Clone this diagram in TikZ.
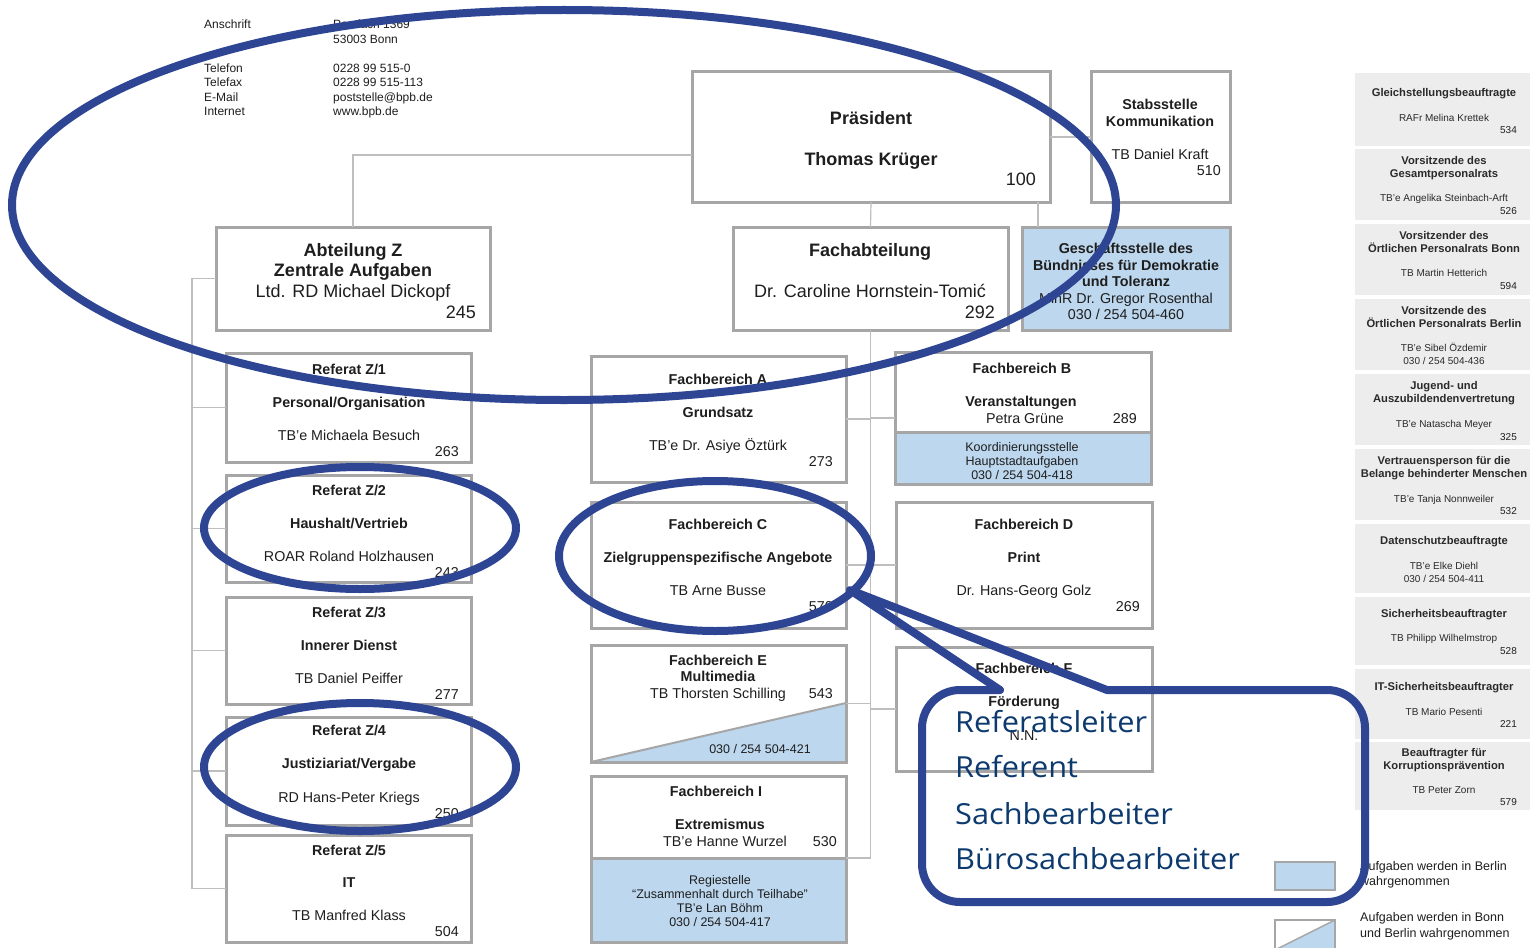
\documentclass[tikz,border=0pt]{standalone}
\usepackage{fontspec}
\setmainfont{Liberation Sans}
\newfontfamily\callfont[FakeStretch=1.06]{Open Sans}
\definecolor{boxgray}{HTML}{A6A6A6}
\definecolor{conngray}{HTML}{BEBEBE}
\definecolor{bluef}{HTML}{BDD7EE}
\definecolor{sidegray}{HTML}{EDEDED}
\definecolor{annblue}{RGB}{46,69,148}
\definecolor{calltext}{RGB}{12,58,110}
\definecolor{txtblack}{HTML}{1E1E1E}
\definecolor{sidetext}{HTML}{2A2A2A}
\newcommand\fL{\fontsize{18}{21}\selectfont}
\newcommand\fM{\fontsize{14.3}{17}\selectfont}
\newcommand\fS{\fontsize{12.5}{15}\selectfont}
\newcommand\fAd{\fontsize{12}{14}\selectfont}
\newcommand\fSB{\fontsize{11.2}{13}\selectfont\bfseries}
\newcommand\fSR{\fontsize{10}{12}\selectfont}
\newcounter{tn}
\newcommand\tx[4][]{\stepcounter{tn}\node[txt,#1] (t\arabic{tn}) at (#2,#3) {#4};}
\newcommand\bx[6][]{\node[box,#1,minimum width={#4-#2},minimum height={#5-#3}] (#6) at (#2,#3) {};}
\begin{document}
\begin{tikzpicture}[x=1pt,y=-1pt,
  box/.style={draw=boxgray,line width=3pt,fill=white,inner sep=0pt,outer sep=0pt,anchor=north west},
  side/.style={draw=none,fill=sidegray,line width=0pt},
  conn/.style={draw=conngray,line width=1.2pt},
  ann/.style={draw=annblue,line width=8pt},
  txt/.style={inner sep=0pt,text=txtblack,anchor=mid},
  lt/.style={txt,anchor=mid west},
  rt/.style={txt,anchor=mid east},
  LB/.style={font=\fL\bfseries,yshift=-4.5pt},
  LR/.style={font=\fL,yshift=-4.5pt},
  MB/.style={font=\fM\bfseries,yshift=-3pt},
  MR/.style={font=\fM,yshift=-3pt},
  SR/.style={font=\fS,yshift=-2.5pt},
  AD/.style={font=\fAd,yshift=-3pt},
  sb/.style={font=\fSB,text=sidetext,yshift=-2pt},
  sr/.style={font=\fSR,text=sidetext,yshift=-2pt},
  call/.style={inner sep=0pt,anchor=base west,text=calltext,font=\callfont\fontsize{29}{33}\selectfont}]
\fill[white] (0,0) rectangle (1530,947);
\useasboundingbox (0,0) rectangle (1530,947);

% ---------- address block
\tx[lt,AD]{204}{23}{Anschrift}
\tx[lt,AD]{333}{23}{Postfach 1369}
\tx[lt,AD]{333}{38}{53003 Bonn}
\tx[lt,AD]{204}{67}{Telefon}
\tx[lt,AD]{333}{67}{0228 99 515-0}
\tx[lt,AD]{204}{81}{Telefax}
\tx[lt,AD]{333}{81}{0228 99 515-113}
\tx[lt,AD]{204}{96}{E-Mail}
\tx[lt,AD]{333}{96}{poststelle@bpb.de}
\tx[lt,AD]{204}{110}{Internet}
\tx[lt,AD]{333}{110}{www.bpb.de}

% ---------- sidebar
\bx[side]{1355}{73}{1545}{146}{s1}
\bx[side]{1355}{149}{1545}{220}{s2}
\bx[side]{1355}{224}{1545}{295}{s3}
\bx[side]{1355}{299}{1545}{370}{s4}
\bx[side]{1355}{374}{1545}{445}{s5}
\bx[side]{1355}{449}{1545}{520}{s6}
\bx[side]{1355}{524}{1545}{593}{s7}
\bx[side]{1355}{597}{1545}{665}{s8}
\bx[side]{1355}{669}{1545}{739}{s9}
\bx[side]{1355}{742}{1545}{810}{s10}
\tx[sb]{1444}{92}{Gleichstellungsbeauftragte}
\tx[sr]{1444}{117}{RAFr Melina Krettek}
\tx[sr,rt]{1517}{129}{534}
\tx[sb]{1444}{160}{Vorsitzende des}
\tx[sb]{1444}{173}{Gesamtpersonalrats}
\tx[sr]{1444}{197}{TB'e Angelika Steinbach-Arft}
\tx[sr,rt]{1517}{210}{526}
\tx[sb]{1444}{235}{Vorsitzender des}
\tx[sb]{1444}{248}{Örtlichen Personalrats Bonn}
\tx[sr]{1444}{272}{TB Martin Hetterich}
\tx[sr,rt]{1517}{285}{594}
\tx[sb]{1444}{310}{Vorsitzende des}
\tx[sb]{1444}{323}{Örtlichen Personalrats Berlin}
\tx[sr]{1444}{347}{TB'e Sibel Özdemir}
\tx[sr]{1444}{360}{030 / 254 504-436}
\tx[sb]{1444}{385}{Jugend- und}
\tx[sb]{1444}{398}{Auszubildendenvertretung}
\tx[sr]{1444}{423}{TB'e Natascha Meyer}
\tx[sr,rt]{1517}{436}{325}
\tx[sb]{1444}{460}{Vertrauensperson für die}
\tx[sb]{1444}{473}{Belange behinderter Menschen}
\tx[sr]{1444}{498}{TB'e Tanja Nonnweiler}
\tx[sr,rt]{1517}{510}{532}
\tx[sb]{1444}{540}{Datenschutzbeauftragte}
\tx[sr]{1444}{565}{TB'e Elke Diehl}
\tx[sr]{1444}{578}{030 / 254 504-411}
\tx[sb]{1444}{613}{Sicherheitsbeauftragter}
\tx[sr]{1444}{637}{TB Philipp Wilhelmstrop}
\tx[sr,rt]{1517}{650}{528}
\tx[sb]{1444}{686}{IT-Sicherheitsbeauftragter}
\tx[sr]{1444}{711}{TB Mario Pesenti}
\tx[sr,rt]{1517}{723}{221}
\tx[sb]{1444}{752}{Beauftragter für}
\tx[sb]{1444}{765}{Korruptionsprävention}
\tx[sr]{1444}{789}{TB Peter Zorn}
\tx[sr,rt]{1517}{801}{579}

% ---------- fills for split boxes
\fill[bluef] (895,432) rectangle (1151,484);
\fill[bluef] (591,858) rectangle (846,942);
\fill[bluef] (591,762) -- (846,703) -- (846,762) -- cycle;

% ---------- boxes
\bx{692}{72}{1050}{202}{praes}
\bx{1091}{72}{1230}{202}{stab}
\bx{216}{227}{490}{330}{abtz}
\bx{733}{227}{1008}{330}{fachab}
\bx[fill=bluef]{1022}{227}{1230}{330}{gesch}
\bx{226}{353}{471}{462}{rz1}
\bx{226}{475}{471}{582}{rz2}
\bx{226}{597}{471}{704}{rz3}
\bx{226}{717}{471}{825}{rz4}
\bx{226}{835}{471}{942}{rz5}
\bx{591}{356}{846}{482}{fbA}
\bx{591}{502}{846}{628}{fbC}
\bx[fill=none]{591}{645}{846}{762}{fbE}
\bx[fill=none]{591}{776}{846}{942}{fbI}
\bx[fill=none]{895}{352}{1151}{484}{fbB}
\bx{896}{502}{1152}{628}{fbD}
\bx{896}{647}{1152}{771}{fbF}
\draw[draw=boxgray,line width=3pt] (fbB.west |- 0,432) -- (fbB.east |- 0,432);
\draw[draw=boxgray,line width=3pt] (fbI.west |- 0,858) -- (fbI.east |- 0,858);
\draw[draw=boxgray,line width=2pt] (fbE.south west) -- (fbE.east |- 0,703);

% ---------- connectors
\coordinate (gj) at (1038,0);
\coordinate (spine) at (192,0);
\draw[conn] (praes.south) -- (fachab.north);
\draw[conn] (praes.east) -- (stab.west);
\draw[conn] (gj |- praes.south) -- (gj |- gesch.north);
\draw[conn] ([yshift=-18pt]praes.west) -| (abtz.north);
\draw[conn] (abtz.west) -| (spine |- rz5.west) -- (rz5.west);
\draw[conn] (spine |- rz1.west) -- (rz1.west);
\draw[conn] (spine |- rz2.west) -- (rz2.west);
\draw[conn] (spine |- rz3.west) -- (rz3.west);
\draw[conn] (spine |- rz4.west) -- (rz4.west);
\coordinate (fIdiv) at (846,858);
\draw[conn] (fachab.south) -- (fachab.south |- fIdiv) -- (fIdiv);
\draw[conn] (fbA.east) -- (fbA.east -| fachab.south);
\draw[conn] (fbC.east) -- (fbC.east -| fachab.south);
\draw[conn] (fbE.east) -- (fbE.east -| fachab.south);
\draw[conn] (fbB.west) -- (fbB.west -| fachab.south);
\draw[conn] (fbD.west) -- (fbD.west -| fachab.south);
\draw[conn] (fbF.west) -- (fbF.west -| fachab.south);

% ---------- box texts
\tx[LB]{871}{117}{Präsident}
\tx[LB]{871}{158}{Thomas Krüger}
\tx[LR,rt]{1036}{178}{100}
\tx[MB]{1160}{104}{Stabsstelle}
\tx[MB]{1160}{121}{Kommunikation}
\tx[MR]{1160}{154}{TB Daniel Kraft}
\tx[MR,rt]{1221}{170}{510}
\tx[LB]{353}{249}{Abteilung Z}
\tx[LB]{353}{269}{Zentrale Aufgaben}
\tx[LR]{353}{290}{Ltd. RD Michael Dickopf}
\tx[LR,rt]{476}{311}{245}
\tx[LB]{870}{249}{Fachabteilung}
\tx[LR]{870}{290}{Dr. Caroline Hornstein-Tomić}
\tx[LR,rt]{995}{311}{292}
\tx[MB]{1126}{248}{Geschäftsstelle des}
\tx[MB]{1126}{265}{Bündnisses für Demokratie}
\tx[MB]{1126}{281}{und Toleranz}
\tx[MR]{1126}{298}{MinR Dr. Gregor Rosenthal}
\tx[MR]{1126}{314}{030 / 254 504-460}
% Referate
\tx[MB]{349}{369}{Referat Z/1}
\tx[MB]{349}{402}{Personal/Organisation}
\tx[MR]{349}{435}{TB'e Michaela Besuch}
\tx[MR,rt]{459}{451}{263}
\tx[MB]{349}{490}{Referat Z/2}
\tx[MB]{349}{523}{Haushalt/Vertrieb}
\tx[MR]{349}{556}{ROAR Roland Holzhausen}
\tx[MR,rt]{459}{572}{243}
\tx[MB]{349}{612}{Referat Z/3}
\tx[MB]{349}{645}{Innerer Dienst}
\tx[MR]{349}{678}{TB Daniel Peiffer}
\tx[MR,rt]{459}{694}{277}
\tx[MB]{349}{730}{Referat Z/4}
\tx[MB]{349}{763}{Justiziariat/Vergabe}
\tx[MR]{349}{797}{RD Hans-Peter Kriegs}
\tx[MR,rt]{459}{813}{250}
\tx[MB]{349}{850}{Referat Z/5}
\tx[MB]{349}{882}{IT}
\tx[MR]{349}{915}{TB Manfred Klass}
\tx[MR,rt]{459}{931}{504}
% Fachbereiche middle
\tx[MB]{718}{379}{Fachbereich A}
\tx[MB]{718}{412}{Grundsatz}
\tx[MR]{718}{445}{TB'e Dr. Asiye Öztürk}
\tx[MR,rt]{833}{461}{273}
\tx[MB]{718}{524}{Fachbereich C}
\tx[MB]{718}{557}{Zielgruppenspezifische Angebote}
\tx[MR]{718}{590}{TB Arne Busse}
\tx[MR,rt]{833}{606}{570}
\tx[MB]{718}{660}{Fachbereich E}
\tx[MB]{718}{676}{Multimedia}
\tx[MR]{718}{693}{TB Thorsten Schilling}
\tx[MR,rt]{833}{693}{543}
\tx[SR]{760}{748}{030 / 254 504-421}
\tx[MB]{716}{791}{Fachbereich I}
\tx[MB]{720}{824}{Extremismus}
\tx[MR]{725}{841}{TB'e Hanne Wurzel}
\tx[MR,rt]{837}{841}{530}
\tx[SR]{720}{879}{Regiestelle}
\tx[SR]{720}{893}{“Zusammenhalt durch Teilhabe”}
\tx[SR]{720}{907}{TB'e Lan Böhm}
\tx[SR]{720}{921}{030 / 254 504-417}
% Fachbereiche right
\tx[MB]{1022}{368}{Fachbereich B}
\tx[MB]{1021}{401}{Veranstaltungen}
\tx[MR]{1025}{418}{Petra Grüne}
\tx[MR,rt]{1137}{418}{289}
\tx[SR]{1022}{446}{Koordinierungsstelle}
\tx[SR]{1022}{460}{Hauptstadtaufgaben}
\tx[SR]{1022}{474}{030 / 254 504-418}
\tx[MB]{1024}{524}{Fachbereich D}
\tx[MB]{1024}{557}{Print}
\tx[MR]{1024}{590}{Dr. Hans-Georg Golz}
\tx[MR,rt]{1140}{606}{269}
\tx[MB]{1024}{668}{Fachbereich F}
\tx[MB]{1024}{701}{Förderung}
\tx[MR]{1024}{735}{N.N.}

% ---------- legend
\node[box,fill=bluef,line width=2pt,minimum width=60,minimum height=28] (leg1) at (1275,862) {};
\fill[bluef] (1275,950) -- (1335,920) -- (1335,950) -- cycle;
\node[box,fill=none,line width=2pt,minimum width=60,minimum height=30] (leg2) at (1275,920) {};
\draw[draw=boxgray,line width=1.5pt] (leg2.south west) -- (leg2.north east);
\tx[lt,SR]{1360}{865}{Aufgaben werden in Berlin}
\tx[lt,SR]{1360}{880}{wahrgenommen}
\tx[lt,SR]{1360}{916}{Aufgaben werden in Bonn}
\tx[lt,SR]{1360}{932}{und Berlin wahrgenommen}

% ---------- blue annotations
\draw[ann] (564,205) ellipse [x radius=552, y radius=195];
\draw[ann] (360,528) ellipse [x radius=156, y radius=61];
\draw[ann] (360,767) ellipse [x radius=156, y radius=64];
\draw[ann] (715,556) ellipse [x radius=156, y radius=75];
\draw[ann,line cap=round,rounded corners=38pt] (1000,690) -- (922,690) -- (922,902) -- (1365,902) -- (1365,690) -- (1107,690);
\draw[ann,line cap=round,line join=round] (1107,690) -- (850,590) -- (1000,690);
\stepcounter{tn}\node[call] (c1) at (955,732) {Referatsleiter};
\stepcounter{tn}\node[call] (c2) at (955,777) {Referent};
\stepcounter{tn}\node[call] (c3) at (955,824) {Sachbearbeiter};
\stepcounter{tn}\node[call] (c4) at (955,869) {Bürosachbearbeiter};
\end{tikzpicture}
\end{document}
